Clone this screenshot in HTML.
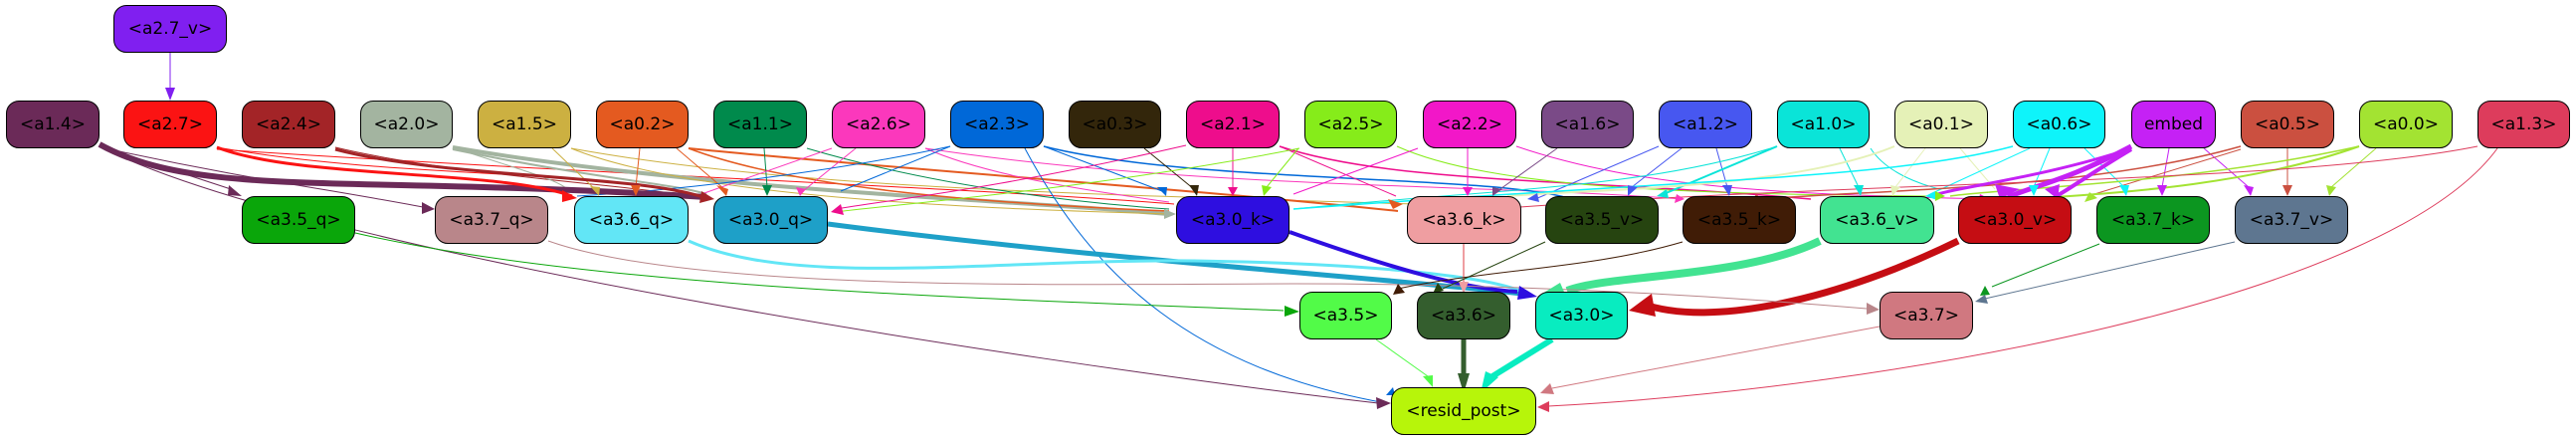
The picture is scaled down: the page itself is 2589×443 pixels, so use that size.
<!DOCTYPE html>
<html><head><meta charset="utf-8"><style>
html,body{margin:0;padding:0;background:#fff;}
#w{position:relative;width:2589px;height:443px;overflow:hidden;}
svg{position:absolute;left:0;top:0;}
.n{position:absolute;box-sizing:border-box;border:1.5px solid #000;border-radius:13px;display:flex;align-items:center;justify-content:center;font-family:"DejaVu Sans","Liberation Sans",sans-serif;font-size:17px;color:#000;height:48px;}
</style></head><body><div id="w">
<svg width="2589" height="443" viewBox="0 0 2589 443" fill="none">
<g stroke-width="1" fill="none">
<!-- thin cross edges top row -> row2 -->
<path d="M171 53 L171 88" stroke="#801ff0"/>
<path d="M100 147 C300 250 1000 360 1385 405" stroke="#6b2a58"/>
<path d="M110 150 L232 190" stroke="#6b2a58"/>
<path d="M120 152 C250 180 330 190 425 208" stroke="#6b2a58"/>
<path d="M218 148 C400 180 600 170 690 195" stroke="#fb1313"/>
<path d="M218 150 C600 175 1000 190 1180 205" stroke="#fb1313"/>
<path d="M337 148 C450 175 620 185 705 198" stroke="#a32427"/>
<path d="M455 148 C520 170 560 180 570 190" stroke="#a3b4a0"/>
<path d="M455 148 C700 190 1000 200 1175 215" stroke="#a3b4a0" stroke-width="4"/>
<path d="M455 150 C600 180 680 185 710 195" stroke="#a3b4a0" stroke-width="2"/>
<path d="M555 149 L600 192" stroke="#ccb041"/>
<path d="M574 149 C700 200 1000 210 1175 215" stroke="#ccb041"/>
<path d="M574 149 C800 190 1100 195 1420 205" stroke="#ccb041"/>
<path d="M643 149 L639 188" stroke="#e45a20"/>
<path d="M680 149 L728 190" stroke="#e45a20"/>
<path d="M692 149 C800 190 1000 205 1175 212" stroke="#e45a20" stroke-width="1.5"/>
<path d="M692 149 C900 170 1200 190 1405 212" stroke="#e45a20" stroke-width="2"/>
<path d="M768 149 L771 188" stroke="#008a4c"/>
<path d="M811 149 C950 190 1100 205 1175 210" stroke="#008a4c"/>
<path d="M836 149 L705 195" stroke="#fb38bc"/>
<path d="M860 149 L807 192" stroke="#fb38bc"/>
<path d="M930 149 C1000 180 1120 195 1175 203" stroke="#fb38bc"/>
<path d="M930 149 C1200 190 1500 185 1690 200" stroke="#fb38bc"/>
<path d="M955 147 C850 170 700 190 580 197" stroke="#0068d8"/>
<path d="M955 147 L845 192" stroke="#0068d8"/>
<path d="M1049 147 L1168 192" stroke="#0068d8"/>
<path d="M1049 147 C1200 185 1500 175 1580 200" stroke="#0068d8" stroke-width="1.5"/>
<path d="M1030 149 C1100 280 1200 370 1393 405" stroke="#0068d8"/>
<path d="M1150 149 L1200 190" stroke="#33260b"/>
<path d="M1239 149 L1239 188" stroke="#ee0d8c"/>
<path d="M1192 146 C1000 190 900 200 840 210" stroke="#ee0d8c"/>
<path d="M1286 147 C1400 185 1600 180 1820 200" stroke="#ee0d8c" stroke-width="1.5"/>
<path d="M1286 147 L1403 197" stroke="#ee0d8c"/>
<path d="M1305 149 L1273 188" stroke="#86ec1a"/>
<path d="M1306 149 C1100 190 900 205 840 213" stroke="#86ec1a"/>
<path d="M1404 147 C1500 190 1700 195 1945 197" stroke="#86ec1a"/>
<path d="M1475 149 L1475 188" stroke="#f217c8"/>
<path d="M1425 149 L1300 195" stroke="#f217c8"/>
<path d="M1524 147 C1650 190 1800 195 1995 200" stroke="#f217c8"/>
<path d="M1565 149 L1505 192" stroke="#7a4a87"/>
<path d="M1667 147 L1543 200" stroke="#4757f0"/>
<path d="M1690 149 L1640 188" stroke="#4757f0"/>
<path d="M1725 149 L1736 188" stroke="#4757f0"/>
<path d="M1786 147 C1650 190 1500 190 1300 210" stroke="#0ae4d8"/>
<path d="M1786 147 L1672 195" stroke="#0ae4d8" stroke-width="2"/>
<path d="M1849 149 L1868 188" stroke="#0ae4d8"/>
<path d="M1880 149 C1900 180 1950 190 1950 190" stroke="#0ae4d8"/>
<path d="M1904 147 C1800 190 1600 190 1515 197" stroke="#e5f1b7" stroke-width="2"/>
<path d="M1935 149 L1905 188" stroke="#e5f1b7"/>
<path d="M1970 149 L2005 190" stroke="#e5f1b7"/>
<path d="M2023 147 C1900 180 1700 180 1300 210" stroke="#0ef4fa" stroke-width="1.5"/>
<path d="M2060 149 L2044 188" stroke="#0ef4fa"/>
<path d="M2095 149 L2135 188" stroke="#0ef4fa"/>
<path d="M2040 149 L1940 195" stroke="#0ef4fa"/>
<path d="M2180 149 L2173 188" stroke="#c521f5"/>
<path d="M2215 149 L2260 188" stroke="#c521f5"/>
<path d="M2252 147 C2100 190 1900 190 1770 200" stroke="#cb5040" stroke-width="1.5"/>
<path d="M2299 149 L2299 188" stroke="#cb5040"/>
<path d="M2252 150 L2105 195" stroke="#cb5040"/>
<path d="M2371 147 C2250 190 2100 195 2035 200" stroke="#a3e332" stroke-width="2"/>
<path d="M2371 147 C2200 185 2000 190 1960 197" stroke="#a3e332" stroke-width="1.5"/>
<path d="M2388 149 L2343 188" stroke="#a3e332"/>
<path d="M2490 147 C2300 185 1900 180 1500 210" stroke="#dd3c5c"/>
<path d="M2510 149 C2400 300 1900 390 1556 408" stroke="#dd3c5c"/>
</g>
<!-- thick edges -->
<path d="M100 145 C200 200 350 175 710 198" stroke="#6b2a58" stroke-width="6"/>
<path d="M218 148 C300 180 500 170 575 197" stroke="#fb1313" stroke-width="3"/>
<path d="M337 150 C450 180 650 175 712 200" stroke="#a32427" stroke-width="3"/>
<path d="M2142 147 C2080 180 2050 185 2018 198" stroke="#c521f5" stroke-width="5"/>
<path d="M2142 150 C2100 175 2080 190 2065 198" stroke="#c521f5" stroke-width="4"/>
<path d="M2142 149 C2050 180 1950 190 1940 198" stroke="#c521f5" stroke-width="3"/>
<g fill="none">
<path d="M832 225 C1100 260 1400 280 1530 295" stroke="#1ea0c8" stroke-width="5"/>
<path d="M692 242 C800 290 1000 260 1200 262 C1400 265 1500 280 1530 293" stroke="#62e6f6" stroke-width="3"/>
<path d="M1296 233 C1400 270 1470 290 1525 293" stroke="#2e0ee0" stroke-width="4"/>
<path d="M1829 242 C1750 280 1620 275 1575 292" stroke="#42e391" stroke-width="8"/>
<path d="M1968 242 C1850 300 1720 330 1650 305" stroke="#c50d13" stroke-width="7"/>
<path d="M357 234 C600 290 1000 300 1290 312" stroke="#0aa60a" stroke-width="1"/>
<path d="M551 242 C700 295 1100 285 1300 285 C1500 285 1700 295 1876 310" stroke="#b9868a" stroke-width="1"/>
<path d="M1471 245 L1471 285" stroke="#ef9ea1" stroke-width="2"/>
<path d="M1553 243 L1450 290" stroke="#264410" stroke-width="1"/>
<path d="M1691 243 C1600 270 1500 270 1405 290" stroke="#401c06" stroke-width="1"/>
<path d="M2110 245 L2002 288" stroke="#0c9620" stroke-width="1"/>
<path d="M2246 243 L1995 300" stroke="#5e7690" stroke-width="1"/>
<path d="M1471 341 L1471 378" stroke="#345e2e" stroke-width="5"/>
<path d="M1560 341 L1500 378" stroke="#08ecc0" stroke-width="6"/>
<path d="M1383 341 L1435 378" stroke="#52fb48" stroke-width="1"/>
<path d="M1889 328 L1560 390" stroke="#d07880" stroke-width="1"/>
</g>
<!-- arrowheads -->
<g>
<polygon points="166,88 176,88 171,101" fill="#801ff0"/>
<polygon points="1383,399 1398,405 1384,411" fill="#6b2a58"/>
<polygon points="230,186 243,197 229,196" fill="#6b2a58"/>
<polygon points="424,203 437,210 424,215" fill="#6b2a58"/>
<polygon points="565,191 580,199 565,203" fill="#fb1313"/>
<polygon points="705,192 718,200 703,204" fill="#a32427"/>
<polygon points="1527,287 1545,298 1525,301" fill="#2e0ee0"/>
<polygon points="1568,284 1545,298 1575,300" fill="#42e391"/>
<polygon points="1660,295 1637,312 1664,318" fill="#c50d13"/>
<polygon points="1291,307 1306,313 1291,318" fill="#0aa60a"/>
<polygon points="1876,304 1889,311 1876,316" fill="#b9868a"/>
<polygon points="1466,283 1476,283 1471,295" fill="#ef9ea1"/>
<polygon points="1445,284 1440,295 1451,292" fill="#264410"/>
<polygon points="1405,285 1400,296 1412,294" fill="#401c06"/>
<polygon points="1995,287 1990,297 2000,296" fill="#0c9620"/>
<polygon points="1995,296 1985,303 1998,305" fill="#5e7690"/>
<polygon points="1465,375 1477,375 1471,395" fill="#345e2e"/>
<polygon points="1493,373 1506,379 1488,395" fill="#08ecc0"/>
<polygon points="1430,378 1440,377 1440,389" fill="#52fb48"/>
<polygon points="1393,397 1402,397 1400,389" fill="#0068d8"/>
<polygon points="1558,385 1548,395 1562,396" fill="#d07880"/>
<polygon points="1557,403 1545,409 1557,414" fill="#dd3c5c"/>
<polygon points="1234,188 1244,188 1239,197" fill="#ee0d8c"/>
<polygon points="1470,188 1480,188 1475,197" fill="#f217c8"/>
<polygon points="634,186 644,186 639,197" fill="#e45a20"/>
<polygon points="766,186 776,186 771,197" fill="#008a4c"/>
<polygon points="2294,186 2304,186 2299,197" fill="#cb5040"/>
<polygon points="2168,186 2178,186 2173,197" fill="#c521f5"/>
<polygon points="2039,186 2049,186 2044,197" fill="#0ef4fa"/>
<polygon points="2005,185 2030,190 2010,200" fill="#c521f5"/>
<polygon points="2055,190 2070,185 2068,200" fill="#c521f5"/>
<polygon points="1863,186 1873,186 1870,197" fill="#0ae4d8"/>
<polygon points="1731,186 1741,186 1738,197" fill="#4757f0"/>
<polygon points="1636,186 1646,188 1636,197" fill="#4757f0"/>
<polygon points="2338,186 2348,188 2341,197" fill="#a3e332"/>
<polygon points="2255,186 2265,188 2262,197" fill="#c521f5"/>
<polygon points="2130,186 2140,186 2137,197" fill="#0ef4fa"/>
<polygon points="1195,186 1205,186 1203,197" fill="#33260b"/>
<polygon points="1163,188 1173,188 1172,197" fill="#0068d8"/>
<polygon points="1268,186 1278,188 1270,197" fill="#86ec1a"/>
<polygon points="1500,188 1510,190 1500,197" fill="#7a4a87"/>
<polygon points="1900,186 1910,188 1902,197" fill="#e5f1b7"/>
<polygon points="1395,200 1410,205 1400,210" fill="#e45a20"/>
<polygon points="1170,210 1182,215 1170,220" fill="#a3b4a0"/>
<polygon points="593,187 603,188 602,197" fill="#ccb041"/>
<polygon points="720,186 732,190 730,197" fill="#e45a20"/>
<polygon points="800,188 810,190 804,197" fill="#fb38bc"/>
<polygon points="845,205 835,213 848,216" fill="#ee0d8c"/>
<polygon points="1545,194 1535,200 1547,203" fill="#4757f0"/>
<polygon points="1675,190 1665,197 1677,199" fill="#0ae4d8"/>
<polygon points="1945,192 1935,197 1947,201" fill="#0ef4fa"/>
<polygon points="1765,195 1760,203 1772,201" fill="#cb5040"/>
<polygon points="1945,192 1955,197 1945,202" fill="#86ec1a"/>
<polygon points="1990,195 2000,200 1988,203" fill="#f217c8"/>
<polygon points="2100,193 2095,203 2108,199" fill="#a3e332"/>
<polygon points="1685,195 1693,200 1683,204" fill="#fb38bc"/>
</g>
</svg>
<div class="n" style="left:114px;top:5px;width:114px;background:#801ff0">&lt;a2.7_v&gt;</div>
<div class="n" style="left:6px;top:101px;width:94px;background:#6b2a58">&lt;a1.4&gt;</div>
<div class="n" style="left:124px;top:101px;width:94px;background:#fb1313">&lt;a2.7&gt;</div>
<div class="n" style="left:243px;top:101px;width:94px;background:#a32427">&lt;a2.4&gt;</div>
<div class="n" style="left:362px;top:101px;width:93px;background:#a3b4a0">&lt;a2.0&gt;</div>
<div class="n" style="left:480px;top:101px;width:94px;background:#ccb041">&lt;a1.5&gt;</div>
<div class="n" style="left:599px;top:101px;width:93px;background:#e45a20">&lt;a0.2&gt;</div>
<div class="n" style="left:717px;top:101px;width:94px;background:#008a4c">&lt;a1.1&gt;</div>
<div class="n" style="left:836px;top:101px;width:94px;background:#fb38bc">&lt;a2.6&gt;</div>
<div class="n" style="left:955px;top:101px;width:94px;background:#0068d8">&lt;a2.3&gt;</div>
<div class="n" style="left:1074px;top:101px;width:93px;background:#33260b">&lt;a0.3&gt;</div>
<div class="n" style="left:1192px;top:101px;width:94px;background:#ee0d8c">&lt;a2.1&gt;</div>
<div class="n" style="left:1311px;top:101px;width:93px;background:#86ec1a">&lt;a2.5&gt;</div>
<div class="n" style="left:1430px;top:101px;width:94px;background:#f217c8">&lt;a2.2&gt;</div>
<div class="n" style="left:1549px;top:101px;width:93px;background:#7a4a87">&lt;a1.6&gt;</div>
<div class="n" style="left:1667px;top:101px;width:94px;background:#4757f0">&lt;a1.2&gt;</div>
<div class="n" style="left:1786px;top:101px;width:93px;background:#0ae4d8">&lt;a1.0&gt;</div>
<div class="n" style="left:1904px;top:101px;width:94px;background:#e5f1b7">&lt;a0.1&gt;</div>
<div class="n" style="left:2023px;top:101px;width:93px;background:#0ef4fa">&lt;a0.6&gt;</div>
<div class="n" style="left:2142px;top:101px;width:85px;background:#c521f5">embed</div>
<div class="n" style="left:2252px;top:101px;width:94px;background:#cb5040">&lt;a0.5&gt;</div>
<div class="n" style="left:2371px;top:101px;width:94px;background:#a3e332">&lt;a0.0&gt;</div>
<div class="n" style="left:2490px;top:101px;width:93px;background:#dd3c5c">&lt;a1.3&gt;</div>
<div class="n" style="left:243px;top:197px;width:114px;background:#0aa60a">&lt;a3.5_q&gt;</div>
<div class="n" style="left:437px;top:197px;width:114px;background:#b9868a">&lt;a3.7_q&gt;</div>
<div class="n" style="left:577px;top:197px;width:115px;background:#62e6f6">&lt;a3.6_q&gt;</div>
<div class="n" style="left:717px;top:197px;width:115px;background:#1ea0c8">&lt;a3.0_q&gt;</div>
<div class="n" style="left:1182px;top:197px;width:114px;background:#2e0ee0">&lt;a3.0_k&gt;</div>
<div class="n" style="left:1414px;top:197px;width:115px;background:#ef9ea1">&lt;a3.6_k&gt;</div>
<div class="n" style="left:1553px;top:197px;width:114px;background:#264410">&lt;a3.5_v&gt;</div>
<div class="n" style="left:1691px;top:197px;width:114px;background:#401c06">&lt;a3.5_k&gt;</div>
<div class="n" style="left:1829px;top:197px;width:115px;background:#42e391">&lt;a3.6_v&gt;</div>
<div class="n" style="left:1968px;top:197px;width:114px;background:#c50d13">&lt;a3.0_v&gt;</div>
<div class="n" style="left:2107px;top:197px;width:114px;background:#0c9620">&lt;a3.7_k&gt;</div>
<div class="n" style="left:2246px;top:197px;width:114px;background:#5e7690">&lt;a3.7_v&gt;</div>
<div class="n" style="left:1306px;top:293px;width:93px;background:#52fb48">&lt;a3.5&gt;</div>
<div class="n" style="left:1424px;top:293px;width:94px;background:#345e2e">&lt;a3.6&gt;</div>
<div class="n" style="left:1543px;top:293px;width:93px;background:#08ecc0">&lt;a3.0&gt;</div>
<div class="n" style="left:1889px;top:293px;width:94px;background:#d07880">&lt;a3.7&gt;</div>
<div class="n" style="left:1398px;top:389px;width:146px;background:#b7f50a">&lt;resid_post&gt;</div>
</div></body></html>
